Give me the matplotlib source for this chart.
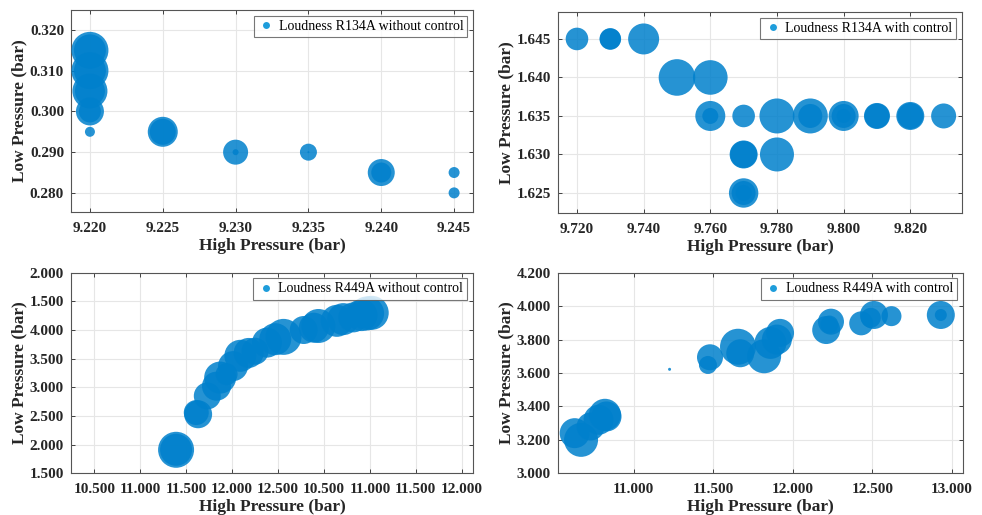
import numpy as np
import matplotlib
matplotlib.use("Agg")
import matplotlib.pyplot as plt
from matplotlib.lines import Line2D

plt.rcParams['font.family'] = ['Liberation Serif', 'DejaVu Serif']

# ---- data: high pressure, low pressure, loudness (marker radius, px) ----
# R134A without control
hp1 = [9.220, 9.220, 9.220, 9.220, 9.220, 9.220, 9.220, 9.220, 9.220,
       9.225, 9.225, 9.230, 9.230, 9.235, 9.235, 9.240, 9.240, 9.245, 9.245]
lp1 = [0.315, 0.315, 0.310, 0.310, 0.305, 0.305, 0.300, 0.300, 0.295,
       0.295, 0.295, 0.290, 0.290, 0.290, 0.290, 0.285, 0.285, 0.285, 0.280]
ld1 = [18.5, 16, 18.5, 16, 17.5, 15, 14, 11, 5,
       15, 13, 12.5, 3, 8.5, 1, 13.5, 10, 5.5, 5.5]

# R134A with control
hp2 = [9.720, 9.730, 9.730, 9.740, 9.750, 9.760, 9.760, 9.760, 9.770, 9.780,
       9.790, 9.790, 9.800, 9.800, 9.800, 9.810, 9.810, 9.820, 9.820, 9.830,
       9.770, 9.770, 9.780, 9.770, 9.770, 9.770]
lp2 = [1.645, 1.645, 1.645, 1.645, 1.640, 1.640, 1.635, 1.635, 1.635, 1.635,
       1.635, 1.635, 1.635, 1.635, 1.635, 1.635, 1.635, 1.635, 1.635, 1.635,
       1.630, 1.630, 1.630, 1.625, 1.625, 1.625]
ld2 = [11.3, 10.8, 10.5, 15.5, 18.3, 17.3, 15, 8, 11.3, 17.5,
       17.5, 12, 15, 12, 7, 13, 12.5, 14, 13, 12.5,
       14, 13.5, 17, 14.7, 12, 8]

# R449A without control
hp3 = [11.39, 11.39, 11.63, 11.61, 11.73, 11.83, 11.87, 11.94, 12.01, 12.09,
       12.18, 12.25, 12.38, 12.47, 12.56, 12.78, 12.89, 12.94, 13.14, 13.21,
       13.32, 13.41, 13.47, 13.52]
lp3 = [1.91, 1.91, 2.53, 2.56, 2.85, 3.02, 3.17, 3.23, 3.37, 3.55,
       3.60, 3.63, 3.78, 3.84, 3.88, 4.00, 4.04, 4.07, 4.16, 4.19,
       4.22, 4.26, 4.29, 4.30]
ld3 = [18, 16, 14, 12.5, 13.5, 14.5, 16, 11, 15, 16,
       15, 13.5, 15, 16, 18, 14, 15, 17, 16, 16,
       15, 16, 17, 17]
xt3 = [10.5, 11.0, 11.5, 12.0, 12.5, 13.0, 13.5, 14.0, 14.5]
xl3 = ['10.500', '11.000', '11.500', '12.000', '12.500', '10.500', '11.000', '11.500', '12.000']
yt3 = [1.5, 2.0, 2.5, 3.0, 3.5, 4.0, 4.5, 5.0]
yl3 = ['1.500', '2.000', '2.500', '3.000', '3.500', '4.000', '1.500', '2.000']

# R449A with control
hp4 = [10.63, 10.67, 10.73, 10.78, 10.82, 10.83, 11.226, 11.48, 11.467, 11.656,
       11.67, 11.82, 11.86, 11.92, 11.90, 12.21, 12.24, 12.23, 12.43, 12.51,
       12.49, 12.62, 12.93, 12.93]
lp4 = [3.24, 3.20, 3.28, 3.32, 3.35, 3.34, 3.622, 3.694, 3.648, 3.757,
       3.718, 3.70, 3.78, 3.84, 3.80, 3.857, 3.907, 3.89, 3.897, 3.947,
       3.93, 3.94, 3.947, 3.947]
ld4 = [15, 17, 14, 15, 16, 15, 1.5, 13, 9, 18,
       14, 17, 16, 14, 15, 14, 13, 9, 12, 14,
       10, 10, 14, 6]

face = '#0080cc'
legcol = '#1e9ddb'

panels = [
    (hp1, lp1, ld1, 'Loudness R134A without control', (9.2187, 9.2463), (0.2753, 0.3249),
     [9.220, 9.225, 9.230, 9.235, 9.240, 9.245], None, [0.280, 0.290, 0.300, 0.310, 0.320], None,
     [0.0723, 0.5883, 0.4094, 0.3922]),
    (hp2, lp2, ld2, 'Loudness R134A with control', (9.7143, 9.8355), (1.6224, 1.6485),
     [9.72, 9.74, 9.76, 9.78, 9.80, 9.82], None, [1.625, 1.630, 1.635, 1.640, 1.645], None,
     [0.5682, 0.5864, 0.4114, 0.3903]),
    (hp3, lp3, ld3, 'Loudness R449A without control', (10.246, 14.623), (1.5, 5.0),
     xt3, xl3, yt3, yl3,
     [0.0723, 0.081, 0.4094, 0.3895]),
    (hp4, lp4, ld4, 'Loudness R449A with control', (10.525, 13.069), (3.0, 4.2),
     [11.0, 11.5, 12.0, 12.5, 13.0], None, [3.0, 3.2, 3.4, 3.6, 3.8, 4.0, 4.2], None,
     [0.5682, 0.081, 0.4124, 0.3895]),
]

fig = plt.figure(figsize=(9.82, 5.15), dpi=100)

for hp, lp, ld, lab, xlim, ylim, xt, xl, yt, yl, pos in panels:
    ax = fig.add_axes(pos)
    s = (1.44 * np.array(ld)) ** 2
    ax.scatter(hp, lp, s=s, c=face, alpha=0.85, linewidths=0, zorder=3)
    ax.set_xlim(xlim)
    ax.set_ylim(ylim)
    ax.set_xticks(xt)
    ax.set_yticks(yt)
    if xl is None:
        xl = ['%.3f' % v for v in xt]
    if yl is None:
        yl = ['%.3f' % v for v in yt]
    ax.set_xticklabels(xl, fontsize=11, fontweight='bold')
    ax.set_yticklabels(yl, fontsize=11, fontweight='bold')
    ax.grid(True, color='#e6e6e6', linewidth=0.8, zorder=0)
    ax.set_axisbelow(True)
    ax.tick_params(direction='in', top=True, right=True, length=3, width=0.6,
                   color='#262626', labelcolor='#262626')
    ax.tick_params(axis='x', pad=7)
    ax.tick_params(axis='y', pad=5)
    for sp in ax.spines.values():
        sp.set_color('#555555')
        sp.set_linewidth(0.8)
    ax.set_xlabel('High Pressure (bar)', fontsize=12.5, fontweight='bold', color='#262626', labelpad=2)
    ax.set_ylabel('Low Pressure (bar)', fontsize=12.5, fontweight='bold', color='#262626', labelpad=1.5)
    h = Line2D([], [], marker='o', linestyle='none', markersize=5,
               markerfacecolor=legcol, markeredgecolor='none')
    leg = ax.legend([h], [lab], loc='upper right', fontsize=10, frameon=True, fancybox=False,
                    borderpad=0.3, handletextpad=0.3, handlelength=1.2,
                    borderaxespad=0.4, edgecolor='#555555')
    leg.get_frame().set_linewidth(0.8)

fig.savefig('out.png', dpi=100)
